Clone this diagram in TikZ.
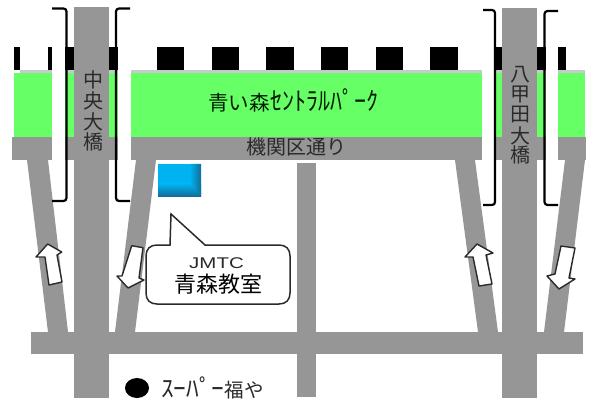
\documentclass[tikz,border=0pt]{standalone}
\usepackage{fontspec}
\newfontfamily\jp{Noto Sans CJK JP}
\newfontfamily\lat{Liberation Sans}
\definecolor{roadgray}{HTML}{969696}
\definecolor{parkgreen}{HTML}{66FF66}
\definecolor{boxblue}{HTML}{00B2F0}
\definecolor{boxdark}{HTML}{106F98}
\definecolor{edgegray}{HTML}{C8C8D0}
\definecolor{inkgray}{HTML}{2A2A2A}
\tikzset{
  road/.style={fill=roadgray,draw=none},
  park/.style={fill=parkgreen,draw=none},
  gapw/.style={fill=white,draw=none},
  tie/.style={fill=black,draw=none},
  brk/.style={draw=black,line width=2.2pt,rounded corners=3pt},
  blockarrow/.style={draw=inkgray,fill=white,line width=1.4pt,line join=round},
  vlabel/.style={font=\jp\fontsize{20}{20}\selectfont,text=inkgray,inner sep=0pt},
  maplabel/.style={font=\jp\fontsize{20}{20}\selectfont,text=inkgray,inner sep=0pt},
}
\begin{document}
\begin{tikzpicture}[x=1pt,y=-1pt]
\useasboundingbox (0,0) rectangle (593,403);
\fill[white] (0,0) rectangle (593,403);
% rail ties
\foreach \a/\b in {14/20,48/52,65/118,157/184,212/239,266/294,321/348,376/403,430/458,494/502,537/566}
  \fill[tie] (\a,47) rectangle (\b,70);
\fill[edgegray] (20,70) rectangle (585,73);
% park and street
\fill[park] (14,73) rectangle (585,137);
\fill[road] (12,137) rectangle (586,160);
% gaps
\foreach \a/\b in {52/65,118/131,482/494,546/558}
  \fill[gapw] (\a,0) rectangle (\b,165);
% slanted roads
\fill[road] (27,160) -- (48,160) -- (68,332) -- (48,332) -- cycle;
\fill[road] (136,160) -- (156,160) -- (135,332) -- (115,332) -- cycle;
\fill[road] (455,160) -- (475,160) -- (498,332) -- (478,332) -- cycle;
\fill[road] (565,160) -- (585,160) -- (564,332) -- (544,332) -- cycle;
% main roads
\fill[road] (31,332) rectangle (583,354);
\fill[road] (74,7) rectangle (109,398);
\fill[road] (502,8) rectangle (537,398);
\fill[road] (297,163) rectangle (316,397);
% brackets
\draw[brk] (52,8.5) -- (66.5,8.5) -- (66.5,201) -- (52,201);
\draw[brk] (130,8.5) -- (116,8.5) -- (116,201) -- (130,201);
\draw[brk] (483,10) -- (495,10) -- (495,205) -- (483,205);
\draw[brk] (558,11) -- (544.5,11) -- (544.5,205) -- (558,205);
% blue building
\fill[boxblue] (158,164) rectangle (201,196);
\shade[top color=boxblue,bottom color=boxdark] (158,184) -- (201,184) -- (201,196) -- (158,196) -- cycle;
\shade[left color=boxblue,right color=boxdark] (190,164) -- (201,164) -- (201,196) -- (190,185) -- cycle;
% arrows
\draw[blockarrow] (47.7,244) -- (61.7,252) -- (57,255) -- (62,282) -- (49,285) -- (45,257) -- (36,257) -- cycle;
\draw[blockarrow] (131.7,245.7) -- (143,247.7) -- (139,278) -- (144,280) -- (128,288) -- (117,276) -- (122,276) -- cycle;
\draw[blockarrow] (477,244) -- (493,253) -- (486,255) -- (492,284) -- (479,286) -- (473,257) -- (465,257) -- cycle;
\draw[blockarrow] (561,246) -- (575,248) -- (569,278) -- (575,279) -- (559,289) -- (547,276) -- (555,274) -- cycle;
% callout
\draw[draw=inkgray,fill=white,line width=1.5pt,line join=miter]
  (170,245) -- (171,214) -- (205,245) -- (279,245)
  .. controls (286,245) and (290,249) .. (290,256) -- (290,293)
  .. controls (290,300) and (286,304) .. (279,304) -- (157,304)
  .. controls (150,304) and (146,300) .. (146,293) -- (146,256)
  .. controls (146,249) and (150,245) .. (157,245) -- cycle;
\node[inner sep=0pt,font=\lat\fontsize{15.5}{15.5}\selectfont,text=inkgray] (jmtc) at (216.5,263) {\scalebox{1.32}[1]{JMTC}};
\node[inner sep=0pt,font=\jp\fontsize{22}{22}\selectfont,text=black,anchor=north,text height=17pt,text depth=0pt] (room) at (218,275.5) {青森教室};
% labels
\node[maplabel,anchor=west,text=black!75!green!50!black,font=\jp\fontsize{20.5}{20.5}\selectfont] (parkname) at (208,100) {青い森\kern1pt\scalebox{1.17}[1.25]{ｾﾝﾄﾗﾙﾊﾟｰｸ}};
\node[maplabel] (street) at (296,147) {機関区通り};
\foreach \t/\y [count=\i] in {中/80,央/101,大/122,橋/142}
  \node[vlabel] (chuo\i) at (93,\y) {\t};
\foreach \t/\y [count=\i] in {八/75,甲/95,田/115,大/136,橋/155}
  \node[vlabel] (hakko\i) at (520,\y) {\t};
\fill[black] (137,388) ellipse [x radius=12,y radius=10];
\node[maplabel,anchor=west,font=\jp\fontsize{19.5}{19.5}\selectfont] (super) at (161,388) {\scalebox{1.3}[1.25]{ｽｰﾊﾟｰ}福や};
\end{tikzpicture}
\end{document}
